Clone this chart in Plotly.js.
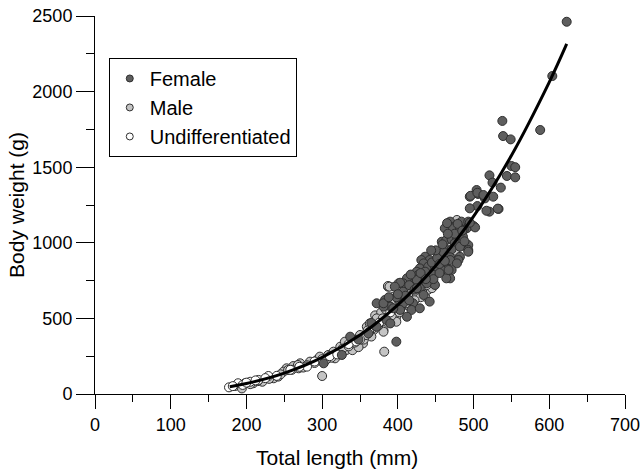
<!DOCTYPE html>
<html>
<head>
<meta charset="utf-8">
<script src="https://cdn.plot.ly/plotly-3.0.1.min.js"></script>
<style>html,body{margin:0;padding:0;background:#fff;}#chart{width:643px;height:474px;}</style>
</head>
<body>
<div id="chart"></div>
<script>
// Female: total length (mm), body weight (g)
const femaleLength = [623,604,588,538,539,549,550,555,521,544,555,525,536,526,515,504,506,495,496,505,513,533,521,517,505,495,532,500,
469,484,493,475,462,473,482,491,502,487,495,479,465,
458,464,471,478,482,486,475,493,462,471,482,493,493,482,469,456,480,469,478,464,471,469,464,458,467,
436,442,431,434,429,440,449,425,436,447,427,449,420,414,412,407,403,425,438,396,429,407,434,383,401,442,420,407,390,381,403,418,429,412,385,398,372,381,394,372,361,337,326,302,390,
445,452,460,455,462,430,415,422,410,398,415,425,447,455,437,475,485,466,450,444,459,488,417,400,388,365,348];
const femaleWeight = [2462,2103,1746,1806,1706,1684,1508,1500,1446,1442,1433,1398,1365,1305,1294,1349,1323,1305,1311,1331,1316,1224,1206,1212,1243,1228,1226,1111,
1140,1140,1140,1107,1096,1096,1096,1096,1102,1085,1133,1125,1130,
1007,1018,1023,1018,1007,1040,997,985,963,957,974,952,941,908,904,908,886,886,864,831,820,765,765,820,820,
908,886,886,864,831,842,842,809,809,787,787,721,765,754,765,732,736,754,732,710,699,677,655,622,622,611,600,600,578,578,556,556,567,511,489,346,600,600,567,445,401,379,258,203,467,
870,900,940,860,880,800,720,690,650,640,620,700,760,800,760,1060,1080,1060,950,950,990,1010,790,660,640,470,360];

// Male
const maleLength = [478,476,445,447,387,420,394,414,425,436,398,398,381,382,300,387,456,401,389,
253,262,271,269,284,293,297,308,315,317,324,330,332,341,346,350,354,359,363,368,376,381,385,394,
185,194,198,209,221,236,242,249,268,255,
370,378,388,360,372,365,355,340,348,320,312,305,280,290,275,260,245,230,215,205,
400,405,410,395,385,415,430,440,445,426,408,327,335,343,358,366,374,380,392,402,412,422,432,438,412,396,384];
const maleWeight = [1151,948,747,736,710,666,644,644,644,644,511,478,423,280,119,714,897,732,710,
170,185,203,170,214,225,247,258,280,236,313,346,291,324,357,390,335,445,467,423,478,412,522,556,
53,37,71,71,81,104,115,148,192,159,
520,540,560,420,500,380,360,290,310,270,240,225,190,205,175,160,130,100,85,65,
560,600,590,590,600,580,640,690,700,720,680,300,315,340,390,430,450,500,520,540,600,620,680,720,700,620,560];

// Undifferentiated
const undiffLength = [177,189,205,216,229,280,416,182,195,200,212,225,240,258,270,290,300,310,335,350,375,390,405,430,440,320,345,362];
const undiffWeight = [44,71,81,93,119,181,710,52,60,75,90,105,120,160,180,215,230,250,330,360,470,540,610,700,760,262,348,410];

// Fitted curve
const fitLength = [178,200,250,300,350,400,450,500,550,600,623];
const fitWeight = [48,69,138,242,390,590,848,1175,1578,2063,2315];

const seriesNames = ['Female','Male','Undifferentiated'];
const fillColors = ['#5e5e5e','#c4c4c4','#ffffff'];
const edge = '#2e2e2e';

function pts(x, y, fill) {
  return {type:'scatter', mode:'markers', x:x, y:y, showlegend:false, hoverinfo:'x+y',
    marker:{size:9, color:fill, line:{color:edge, width:1}}};
}
const traces = [
  pts(maleLength, maleWeight, fillColors[1]),
  pts(undiffLength, undiffWeight, fillColors[2]),
  pts(femaleLength, femaleWeight, fillColors[0]),
  {type:'scatter', mode:'lines', x:fitLength, y:fitWeight, showlegend:false,
    line:{color:'#000', width:3, shape:'spline', smoothing:1}}
];
// legend entries (smaller symbols, as in the reference)
seriesNames.forEach((n,i)=>{
  traces.push({type:'scatter', mode:'markers', x:[null], y:[null], name:n,
    marker:{size:7, color:fillColors[i], line:{color:edge, width:1}}});
});

const font = 'Liberation Sans, Arial, sans-serif';
const layout = {
  width:643, height:474,
  margin:{l:95, r:18, t:16, b:80},
  paper_bgcolor:'#fff', plot_bgcolor:'#fff',
  font:{family:font, color:'#000', size:18},
  showlegend:true,
  legend:{x:0.026, y:0.889, xanchor:'left', yanchor:'top', bgcolor:'#fff',
    bordercolor:'#000', borderwidth:1, font:{size:20, family:font}, tracegroupgap:0,
    itemwidth:30},
  xaxis:{range:[0,700], dtick:100, tick0:0, ticks:'outside', ticklen:14, tickwidth:1, tickcolor:'#000',
    showline:true, linecolor:'#000', linewidth:1, showgrid:false, zeroline:false,
    tickfont:{size:18, family:font},
    minor:{dtick:50, ticks:'outside', ticklen:7, tickcolor:'#000', showgrid:false}},
  yaxis:{range:[0,2500], dtick:500, tick0:0, ticks:'outside', ticklen:18, tickwidth:1, tickcolor:'#000',
    showline:true, linecolor:'#000', linewidth:1, showgrid:false, zeroline:false,
    tickfont:{size:18, family:font},
    minor:{dtick:250, ticks:'outside', ticklen:8, tickcolor:'#000', showgrid:false},
    title:{text:'Body weight (g)', font:{size:21, family:font}, standoff:2}},
  annotations:[{text:'Total length (mm)', xref:'paper', yref:'paper', x:0.4566, y:-0.1667,
    xanchor:'center', yanchor:'middle', showarrow:false, font:{size:21, family:font}}]
};
Plotly.newPlot('chart', traces, layout, {displayModeBar:false, staticPlot:true});
</script>
</body>
</html>
